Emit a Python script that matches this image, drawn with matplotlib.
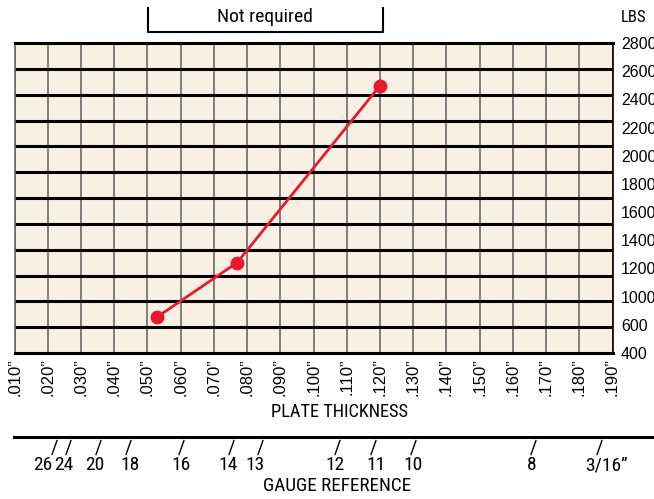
import numpy as np
import matplotlib.pyplot as plt
import matplotlib.transforms as mtransforms
from matplotlib.lines import Line2D
from matplotlib.path import Path

plt.rcParams['font.family'] = ['Roboto Condensed', 'DejaVu Sans']
plt.rcParams['font.stretch'] = 'condensed'
plain = ['Liberation Sans', 'DejaVu Sans']

# data
thickness = [0.053, 0.077, 0.120]
lbs = [680, 1100, 2470]

x_ticks = [0.010, 0.020, 0.030, 0.040, 0.050, 0.060, 0.070, 0.080, 0.090, 0.100,
           0.110, 0.120, 0.130, 0.140, 0.150, 0.160, 0.170, 0.180, 0.190]
x_labels = ['.010\u201d', '.020\u201d', '.030\u201d', '.040\u201d', '.050\u201d', '.060\u201d',
            '.070\u201d', '.080\u201d', '.090\u201d', '.100\u201d', '.110\u201d', '.120\u201d',
            '.130\u201d', '.140\u201d', '.150\u201d', '.160\u201d', '.170\u201d', '.180\u201d',
            '.190\u201d']
y_grid = [400, 600, 800, 1000, 1200, 1400, 1600, 1800, 2000, 2200, 2400, 2600, 2800]
y_labels = ['2800', '2600', '2400', '2200', '2000', '1800', '1600', '1400',
            '1200', '1000', '600', '400']

gauge_pos = [0.022, 0.026, 0.035, 0.044, 0.060, 0.075, 0.084, 0.107, 0.118, 0.130, 0.166, 0.186]
gauge_labels = ['26', '24', '20', '18', '16', '14', '13', '12', '11', '10', '8', '3/16\u201d']

W, H = 654, 499
fig = plt.figure(figsize=(W / 100, H / 100), dpi=100)
ax = fig.add_axes([14.6 / W, 1 - 353 / H, (612.5 - 14.6) / W, 310 / H])

ax.set_facecolor('#f8f1e3')
ax.set_xlim(0.010, 0.190)
ax.set_ylim(400, 2800)
ax.set_axisbelow(True)

ax.set_xticks(x_ticks, x_labels, rotation=90, fontsize=12, family=plain, stretch='normal')
ax.tick_params(axis='x', length=0, pad=4)
ax.grid(axis='x', color='#6a6a6a', lw=1.2)

# labels are spread evenly, gridlines every 200
ax.set_yticks(np.linspace(2800, 400, len(y_labels)), y_labels, fontsize=11.5,
              family=plain, stretch='normal')
ax.set_yticks(y_grid, minor=True)
ax.yaxis.tick_right()
ax.tick_params(axis='y', which='both', length=0, pad=6)
ax.grid(axis='y', which='minor', color='black', lw=2.2)

for s in ['top', 'bottom']:
    ax.spines[s].set_linewidth(2.2)
ax.spines['left'].set_color('#6a6a6a')
ax.spines['left'].set_linewidth(1.2)
ax.spines['right'].set_linewidth(1.2)

ax.plot(thickness, lbs, color='#e8192c', lw=2, marker='o', ms=9, zorder=3, clip_on=False)

# "Not required" bracket
fig.add_artist(Line2D([148 / W, 148 / W, 383 / W, 383 / W],
                      [1 - 8 / H, 1 - 32 / H, 1 - 32 / H, 1 - 8 / H], color='black', lw=1.5))
fig.text(265 / W, 1 - 17 / H, 'Not required', ha='center', va='center', fontsize=14)
fig.text(621 / W, 1 - 18 / H, 'LBS', ha='left', va='center', fontsize=12)
fig.text(340 / W, 1 - 412 / H, 'PLATE THICKNESS', ha='center', va='center', fontsize=13.2)

# gauge reference scale
fig.add_artist(Line2D([14 / W, 1], [1 - 437 / H, 1 - 437 / H], color='black', lw=2.2))
trans = mtransforms.blended_transform_factory(ax.transData, fig.transFigure)
slash = Path([(-0.35, -1), (0.35, 1)], [Path.MOVETO, Path.LINETO])
ax.plot(gauge_pos, [1 - 446.5 / H] * len(gauge_pos), ls='none', marker=slash, ms=11,
        mew=1, color='black', transform=trans, clip_on=False)
nudge = [-12, -4, -3, 3, 0, -2, -5, -2, 3, 0, -1, 7]
for p, lab, dx in zip(gauge_pos, gauge_labels, nudge):
    t = mtransforms.offset_copy(trans, fig=fig, x=dx, y=0, units='dots')
    ax.text(p, 1 - 465 / H, lab, transform=t, ha='center', va='center', fontsize=14, clip_on=False)
fig.text(337 / W, 1 - 486 / H, 'GAUGE REFERENCE', ha='center', va='center', fontsize=13.8)

fig.savefig('out.png', dpi=100)
